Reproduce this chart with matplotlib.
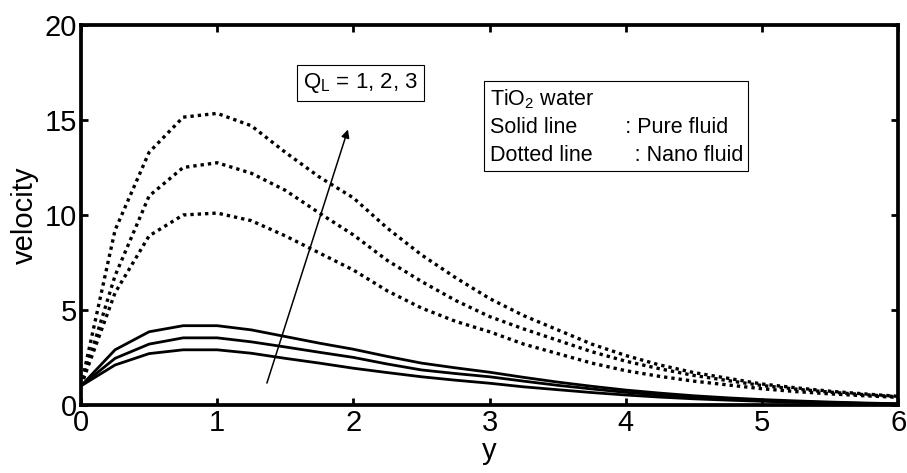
import matplotlib
matplotlib.use("Agg")
import matplotlib.pyplot as plt

plt.rcParams["font.family"] = ["Liberation Sans", "DejaVu Sans"]
plt.rcParams["mathtext.fontset"] = "custom"
plt.rcParams["mathtext.rm"] = "Liberation Sans"
plt.rcParams["mathtext.it"] = "Liberation Sans"
plt.rcParams["mathtext.default"] = "regular"

# ---- data ----
y_pos = [0.0, 0.25, 0.5, 0.75, 1.0, 1.25, 1.5, 1.75, 2.0, 2.25, 2.5, 2.75, 3.0,
         3.25, 3.5, 3.75, 4.0, 4.25, 4.5, 4.75, 5.0, 5.25, 5.5, 5.75, 6.0]

# pure fluid (solid), Q_L = 1, 2, 3
pure_q1 = [1.0, 2.1, 2.7, 2.9, 2.9, 2.72, 2.45, 2.2, 1.93, 1.7, 1.48, 1.3, 1.14,
           0.95, 0.8, 0.65, 0.52, 0.41, 0.32, 0.25, 0.19, 0.14, 0.1, 0.07, 0.04]
pure_q2 = [1.0, 2.45, 3.2, 3.53, 3.53, 3.32, 3.05, 2.77, 2.5, 2.15, 1.84, 1.65, 1.48,
           1.25, 1.03, 0.84, 0.66, 0.52, 0.4, 0.31, 0.23, 0.17, 0.12, 0.08, 0.05]
pure_q3 = [1.0, 2.9, 3.85, 4.17, 4.17, 3.95, 3.6, 3.25, 2.93, 2.55, 2.2, 1.95, 1.72,
           1.45, 1.2, 0.98, 0.78, 0.62, 0.48, 0.37, 0.28, 0.21, 0.15, 0.1, 0.06]

# nano fluid (dotted), Q_L = 1, 2, 3
nano_q1 = [1.0, 5.9, 8.9, 10.0, 10.1, 9.7, 8.9, 8.0, 7.1, 6.0, 5.1, 4.4, 3.85,
           3.2, 2.7, 2.2, 1.8, 1.5, 1.25, 1.05, 0.85, 0.7, 0.58, 0.48, 0.4]
nano_q2 = [1.0, 6.8, 11.0, 12.5, 12.75, 12.2, 11.3, 10.1, 8.95, 7.6, 6.5, 5.5, 4.65,
           4.0, 3.4, 2.8, 2.3, 1.9, 1.55, 1.28, 1.02, 0.83, 0.67, 0.54, 0.43]
nano_q3 = [1.0, 9.2, 13.3, 15.15, 15.35, 14.7, 13.3, 12.0, 10.9, 9.3, 7.9, 6.7, 5.6,
           4.7, 3.95, 3.2, 2.6, 2.1, 1.7, 1.4, 1.1, 0.9, 0.72, 0.58, 0.45]

xticks = [0, 1, 2, 3, 4, 5, 6]
yticks = [0, 5, 10, 15, 20]

fig = plt.figure(figsize=(9.07, 4.73), dpi=100)
ax = fig.add_axes([0.0893, 0.144, 0.901, 0.803])

for vals in (pure_q1, pure_q2, pure_q3):
    ax.plot(y_pos, vals, color="black", lw=2.0)
for vals in (nano_q1, nano_q2, nano_q3):
    ax.plot(y_pos, vals, color="black", lw=2.4, linestyle=(0, (1, 1.2)))

# direction arrow for increasing Q_L
ax.annotate("", xy=(1.96, 14.5), xytext=(1.365, 1.15),
            arrowprops=dict(arrowstyle="-|>", color="black", lw=1.1,
                            mutation_scale=12, shrinkA=0, shrinkB=0))

ax.text(1.63, 16.95, "Q$_L$ = 1, 2, 3", fontsize=16, va="center", ha="left",
        bbox=dict(boxstyle="square,pad=0.28", fc="white", ec="black", lw=0.8))
ax.text(3.0, 14.65,
        "TiO$_2$ water\nSolid line        : Pure fluid\nDotted line       : Nano fluid",
        fontsize=15.5, va="center", ha="left", linespacing=1.4,
        bbox=dict(boxstyle="square,pad=0.25", fc="white", ec="black", lw=0.8))

ax.set_xlim(0, 6)
ax.set_ylim(0, 20)
ax.set_xticks(xticks)
ax.set_yticks(yticks)
ax.tick_params(direction="in", length=5, width=2, labelsize=21, pad=3,
               top=True, right=True)
for sp in ax.spines.values():
    sp.set_linewidth(2.7)

ax.set_xlabel("y", fontsize=21, labelpad=0)
ax.set_ylabel("velocity", fontsize=21, labelpad=4)

fig.savefig("out.png", dpi=100)
